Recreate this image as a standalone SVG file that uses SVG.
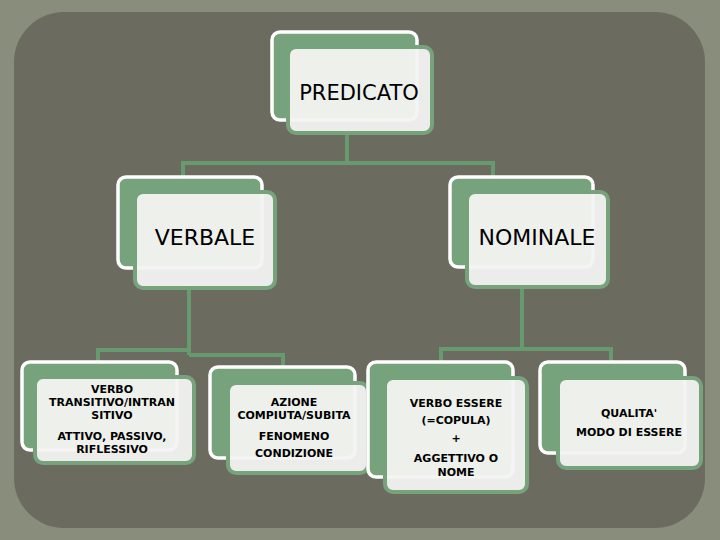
<svg xmlns="http://www.w3.org/2000/svg" width="720" height="540" viewBox="0 0 720 540">
<style>
.bk{fill:#76a37b;stroke:#ffffff;stroke-width:3.5}
.fr{fill:#f3f4f1;fill-opacity:0.95;stroke:#76a37b;stroke-width:4}
.ln{fill:none;stroke:#679a6e;stroke-width:4}
.big{font-family:"Comic Sans MS","DejaVu Sans",sans-serif;fill:#000;text-anchor:middle}
.sm{font-family:"DejaVu Sans","Comic Sans MS",sans-serif;font-weight:bold;font-size:11px;fill:#000;text-anchor:middle}
</style>
<rect x="0" y="0" width="720" height="540" fill="#898d7b"/>
<rect x="14" y="12" width="691" height="516" rx="50" fill="#6c6b5f"/>
<g id="connectors">
<path class="ln" d="M347 133 V163 M183 163 H493 M183 161 V180 M493 161 V180"/>
<path class="ln" d="M189 285 V355 M98 350 H189 M98 348 V364 M189 355 H283 M283 353 V369"/>
<path class="ln" d="M522 285 V349 M441 349 H611 M441 347 V364 M611 347 V364"/>
</g>
<g id="predicato">
<rect class="bk" x="272" y="32" width="145" height="88" rx="8"/>
<rect class="fr" x="288" y="47" width="144" height="86" rx="8"/>
<text class="big" x="359" y="100" font-size="21">PREDICATO</text>
</g>
<g id="verbale">
<rect class="bk" x="118" y="177" width="144" height="91" rx="8"/>
<rect class="fr" x="135" y="192" width="140" height="96" rx="8"/>
<text class="big" x="205" y="245" font-size="22">VERBALE</text>
</g>
<g id="nominale">
<rect class="bk" x="450" y="177" width="143" height="90" rx="8"/>
<rect class="fr" x="467" y="192" width="141" height="95" rx="8"/>
<text class="big" x="537" y="245" font-size="22">NOMINALE</text>
</g>
<g id="box1">
<rect class="bk" x="22" y="362" width="155" height="88" rx="8"/>
<rect class="fr" x="35" y="377" width="159" height="86" rx="8"/>
<text class="sm" x="112" y="393">VERBO</text>
<text class="sm" x="112" y="406">TRANSITIVO/INTRAN</text>
<text class="sm" x="112" y="419">SITIVO</text>
<text class="sm" x="112" y="440">ATTIVO, PASSIVO,</text>
<text class="sm" x="112" y="453">RIFLESSIVO</text>
</g>
<g id="box2">
<rect class="bk" x="210" y="367" width="145" height="91" rx="8"/>
<rect class="fr" x="228" y="383" width="140" height="90" rx="8"/>
<text class="sm" x="294" y="406">AZIONE</text>
<text class="sm" x="294" y="419">COMPIUTA/SUBITA</text>
<text class="sm" x="294" y="440">FENOMENO</text>
<text class="sm" x="294" y="457">CONDIZIONE</text>
</g>
<g id="box3">
<rect class="bk" x="368" y="362" width="145" height="115" rx="8"/>
<rect class="fr" x="385" y="378" width="142" height="114" rx="8"/>
<text class="sm" x="456" y="407">VERBO ESSERE</text>
<text class="sm" x="456" y="424">(=COPULA)</text>
<text class="sm" x="456" y="442">+</text>
<text class="sm" x="456" y="462">AGGETTIVO O</text>
<text class="sm" x="456" y="476">NOME</text>
</g>
<g id="box4">
<rect class="bk" x="540" y="362" width="145" height="91" rx="8"/>
<rect class="fr" x="558" y="378" width="143" height="90" rx="8"/>
<text class="sm" x="629" y="417">QUALITA'</text>
<text class="sm" x="629" y="436">MODO DI ESSERE</text>
</g>
</svg>
